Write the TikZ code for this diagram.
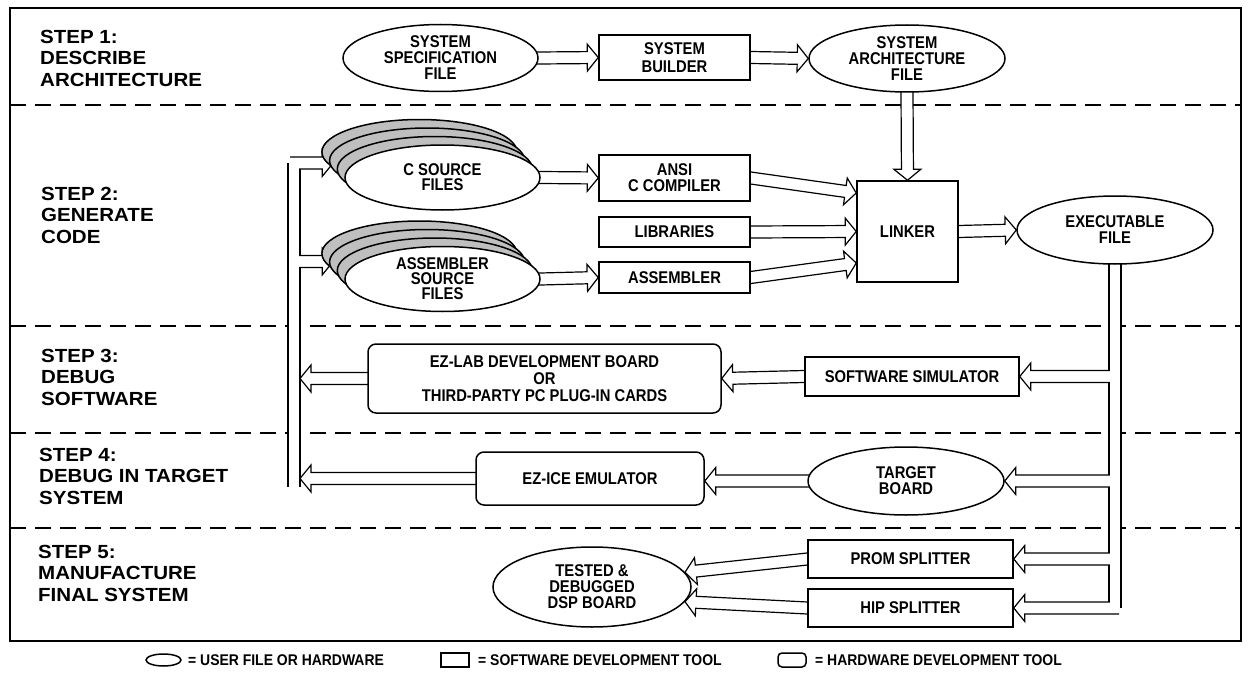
\documentclass[tikz,border=0pt]{standalone}
\usepackage{fontspec}
\setmainfont{Liberation Sans}
\newfontfamily\stepfont{Liberation Sans}[FakeStretch=1.08]
\newfontfamily\nodefam{Liberation Sans}[FakeStretch=0.87]
\newfontfamily\legfam{Liberation Sans}[FakeStretch=0.9]
\usetikzlibrary{shapes.geometric,calc}
\pgfdeclarelayer{bg}
\pgfsetlayers{bg,main}
\definecolor{stackgray}{gray}{0.75}
\newcommand\arrSW{6}
\newcommand\arrHW{13.5}
\newcommand\arrHL{11}
\newcommand\nodefont{\nodefam\bfseries\fontsize{17}{16}\selectfont}
\newcommand\steptext{\stepfont\bfseries\fontsize{19}{21.5}\selectfont}
\newcommand\legtext{\legfam\bfseries\fontsize{15.5}{16}\selectfont}
\newcommand\harrow[2]{%
  \coordinate (hA) at (#1);%
  \coordinate (hB) at (#2);%
  \pgfpointdiff{\pgfpointanchor{hA}{center}}{\pgfpointanchor{hB}{center}}%
  \pgfgetlastxy{\hdx}{\hdy}%
  \pgfmathsetmacro\hang{atan2(\hdy,\hdx)}%
  \pgfmathsetmacro\hlen{veclen(\hdx,\hdy)}%
  \pgfmathsetmacro\hbase{\hlen-\arrHL}%
  \begin{scope}[shift={(hA)}, rotate=\hang, x=1pt, y=1pt]
    \filldraw[fill=white, arrowline] (-4,-\arrSW) -- (\hbase,-\arrSW) -- (\hbase,-\arrHW) -- (\hlen,0) -- (\hbase,\arrHW) -- (\hbase,\arrSW) -- (-4,\arrSW);
  \end{scope}%
}
\begin{document}
\begin{tikzpicture}[x=1pt, y=-1pt,
  every node/.style={font=\nodefont},
  fileE/.style={ellipse, draw, line width=1.5pt, fill=white, inner sep=0pt, align=center},
  swbox/.style={rectangle, draw, line width=1.5pt, fill=white, inner sep=0pt, align=center},
  hwbox/.style={swbox, rounded corners=8pt},
  stackE/.style={fileE, fill=stackgray, minimum width=195pt, minimum height=65pt},
  frontE/.style={fileE, minimum width=195pt, minimum height=65pt, font=\nodefont\fontsize{17}{15}\selectfont},
  steplabel/.style={anchor=west, align=left, inner sep=0pt, font=\steptext},
  legendtext/.style={anchor=west, inner sep=0pt, font=\legtext},
  arrowline/.style={line width=1.2pt, line join=miter},
  busblack/.style={line width=13.2pt, line cap=square, black},
  buswhite/.style={line width=10.8pt, line cap=square, white},
  dashline/.style={line width=1.2pt, dash pattern=on 16pt off 9pt}]
\useasboundingbox (0,0) rectangle (1251,677);

% step labels
\node[steplabel] (st1) at (40,58) {STEP 1:\\DESCRIBE\\ARCHITECTURE};
\node[steplabel] (st2) at (41,215) {STEP 2:\\GENERATE\\CODE};
\node[steplabel] (st3) at (41,377) {STEP 3:\\DEBUG\\SOFTWARE};
\node[steplabel] (st4) at (39,476) {STEP 4:\\DEBUG IN TARGET\\SYSTEM};
\node[steplabel] (st5) at (38,573) {STEP 5:\\MANUFACTURE\\FINAL SYSTEM};

% step 1
\node[fileE, minimum width=195pt, minimum height=67pt] (spec) at (440.5,58) {SYSTEM\\SPECIFICATION\\FILE};
\node[swbox, minimum width=151pt, minimum height=45pt, font=\nodefont\fontsize{17}{18}\selectfont] (builder) at (674.5,57.5) {SYSTEM\\BUILDER};
\node[fileE, minimum width=196pt, minimum height=67pt] (arch) at (907,58.5) {SYSTEM\\ARCHITECTURE\\FILE};

% step 2
\node[stackE] (cs3) at (419.4,152) {};
\node[stackE] (cs2) at (427.1,160.5) {};
\node[stackE] (cs1) at (434.8,169) {};
\node[frontE] (cs0) at (442.5,177.5) {C SOURCE\\FILES};
\node[stackE] (as3) at (419.4,253.5) {};
\node[stackE] (as2) at (427.1,262) {};
\node[stackE] (as1) at (434.8,270.5) {};
\node[frontE] (as0) at (442.5,279) {ASSEMBLER\\SOURCE\\FILES};
\node[swbox, minimum width=151pt, minimum height=46pt] (ansi) at (674.5,178) {ANSI\\C COMPILER};
\node[swbox, minimum width=151pt, minimum height=30pt] (libs) at (674.5,232) {LIBRARIES};
\node[swbox, minimum width=151pt, minimum height=31pt] (asmb) at (674.5,277.5) {ASSEMBLER};
\node[swbox, minimum width=101pt, minimum height=101pt] (linker) at (907.5,231.5) {LINKER};
\node[fileE, minimum width=196pt, minimum height=68pt] (exec) at (1115,230) {EXECUTABLE\\FILE};

% step 3
\node[hwbox, minimum width=353pt, minimum height=69pt, font=\nodefont\fontsize{17}{16.7}\selectfont] (ezlab) at (544.5,378.5) {EZ-LAB DEVELOPMENT BOARD\\OR\\THIRD-PARTY PC PLUG-IN CARDS};
\node[swbox, minimum width=214pt, minimum height=39pt] (swsim) at (912,376.5) {SOFTWARE SIMULATOR};

% step 4
\node[hwbox, minimum width=228pt, minimum height=53pt] (ezice) at (590,478.5) {EZ-ICE EMULATOR};
\node[fileE, minimum width=196pt, minimum height=68pt] (target) at (906,481) {TARGET\\BOARD};

% step 5
\node[swbox, minimum width=205pt, minimum height=38pt] (prom) at (910.5,559) {PROM SPLITTER};
\node[swbox, minimum width=205pt, minimum height=38pt] (hip) at (910.5,608) {HIP SPLITTER};
\node[fileE, minimum width=198pt, minimum height=80pt] (tested) at (592,587) {TESTED \&\\DEBUGGED\\DSP BOARD};

% legend
\node[ellipse, draw, line width=1.5pt, inner sep=0pt, minimum width=35pt, minimum height=12pt] (legE) at (163.5,660) {};
\node[legendtext] (legEt) at (188,660) {= USER FILE OR HARDWARE};
\node[rectangle, draw, line width=1.5pt, inner sep=0pt, minimum width=28pt, minimum height=14pt] (legR) at (455,660) {};
\node[legendtext] (legRt) at (478,660) {= SOFTWARE DEVELOPMENT TOOL};
\node[rectangle, rounded corners=4pt, draw, line width=1.5pt, inner sep=0pt, minimum width=28pt, minimum height=14pt] (legH) at (792,660) {};
\node[legendtext] (legHt) at (815,660) {= HARDWARE DEVELOPMENT TOOL};

\begin{pgfonlayer}{bg}
  \fill[white] (0,0) rectangle (1251,677);
  \draw[line width=1.5pt] (10,8) rectangle (1241,641);
  \foreach \yy in {105,326,433,528} \draw[dashline] (10,\yy) -- (1241,\yy);

  % left feedback bus
  \coordinate (lbT) at (294,163);
  \coordinate (lbA) at (294,261.5);
  \coordinate (lbB) at (294,486.8);
  \draw[busblack] (lbB) -- (lbT);
  \harrow{lbT}{$(lbT -| cs3.west)+(12,0)$}
  \harrow{lbA}{$(lbA -| as3.west)+(12,0)$}
  \draw[buswhite] (lbB) -- (lbT);
  \harrow{ezlab.west}{$(ezlab.west -| lbT)+(6,0)$}
  \harrow{ezice.west}{$(ezice.west -| lbT)+(6,0)$}

  % executable distribution bus
  \coordinate (rbB) at (exec.center |- hip.east);
  \draw[busblack] (exec.center) -- (rbB);
  \harrow{exec.center |- swsim.east}{swsim.east}
  \harrow{exec.center |- target.east}{target.east}
  \harrow{exec.center |- prom.east}{prom.east}
  \harrow{rbB}{hip.east}
  \draw[buswhite] (exec.center) -- (rbB);

  % other connectors
  \harrow{spec.east}{builder.west}
  \harrow{builder.east}{arch.west}
  \harrow{arch.south}{linker.north}
  \harrow{cs0.east}{ansi.west}
  \harrow{as0.east}{asmb.west}
  \harrow{ansi.east}{$(linker.west)+(0,-38.5)$}
  \harrow{libs.east}{linker.west}
  \harrow{asmb.east}{$(linker.west)+(0,31.5)$}
  \harrow{linker.east}{exec.west}
  \harrow{swsim.west}{ezlab.east}
  \harrow{target.west}{ezice.east |- target.west}
  \harrow{prom.west}{tested.9}
  \harrow{hip.west}{tested.-9}
\end{pgfonlayer}
\end{tikzpicture}
\end{document}
